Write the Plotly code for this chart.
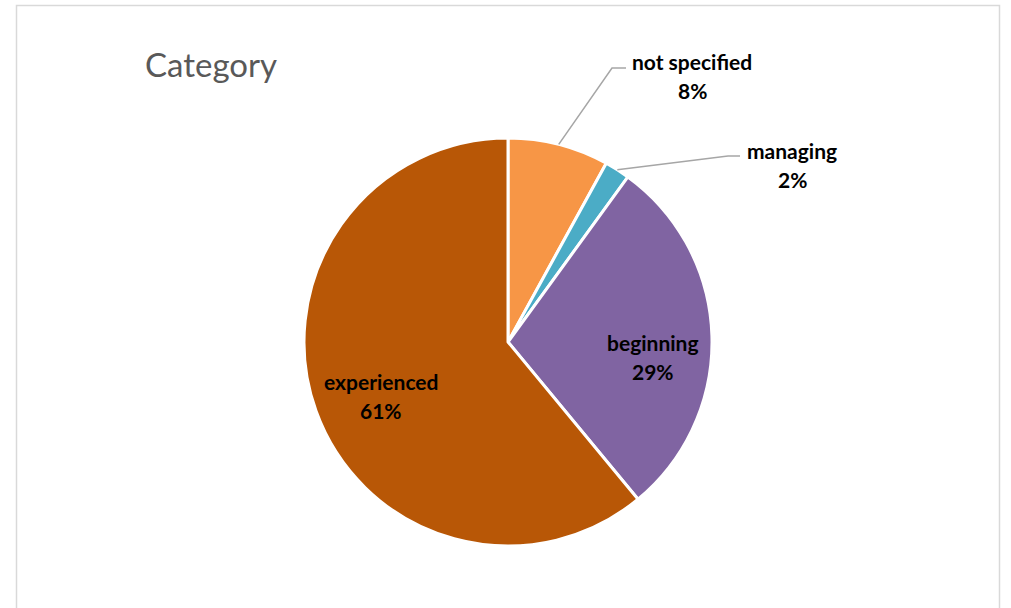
import math
import plotly.graph_objects as go


# =========================
# DATA
# =========================
categories = ["not specified", "managing", "beginning", "experienced"]
shares = [8, 2, 29, 61]
colors = ["#F79646", "#4BACC6", "#8064A2", "#B85706"]

W, H = 1011, 608
CX, CY, R = 508, 342, 204  # pie centre / radius in pixels


def px(x, y):
    return x / W, 1 - y / H


def slice_point(i, frac):
    # point along the middle of slice i, clockwise from 12 o'clock
    total = sum(shares)
    start = sum(shares[:i]) / total
    mid = (start + shares[i] / total / 2) * 2 * math.pi
    return CX + frac * R * math.sin(mid), CY - frac * R * math.cos(mid)


fig = go.Figure()

fig.add_trace(
    go.Pie(
        labels=categories,
        values=shares,
        sort=False,
        direction="clockwise",
        rotation=0,
        textinfo="none",
        hoverinfo="label+percent",
        marker=dict(colors=colors, line=dict(color="white", width=3)),
        domain=dict(
            x=[(CX - R) / W, (CX + R) / W],
            y=[1 - (CY + R) / H, 1 - (CY - R) / H],
        ),
        showlegend=False,
    )
)

FONT = "Lato, Carlito, Calibri, sans-serif"
label_font = dict(family=FONT, size=21, color="#000000")
annotations = []
shapes = []


def add_label(i, x, y):
    pct = round(shares[i] / sum(shares) * 100)
    for text, dy in ((categories[i], -14.5), (f"{pct}%", 14.5)):
        ax, ay = px(x, y + dy)
        annotations.append(dict(
            x=ax, y=ay, xref="paper", yref="paper",
            text=f"<b>{text}</b>", showarrow=False,
            xanchor="center", yanchor="middle", font=label_font,
        ))


# inside labels (nudged a little, like the original)
nudge = {2: (2, 19), 3: (7, 6)}
for i, (nx, ny) in nudge.items():
    lx, ly = slice_point(i, 0.7)
    add_label(i, lx + nx, ly + ny)

# outside labels with leader lines
outside = {0: ((692, 76), (612, 68), (626, 68)), 1: ((792, 165), (728, 156), (740, 156))}
for i, (lab, elbow, end) in outside.items():
    sx, sy = slice_point(i, 1.0)
    add_label(i, *lab)
    p0, p1, p2 = px(sx, sy), px(*elbow), px(*end)
    shapes.append(dict(
        type="path", xref="paper", yref="paper",
        path=f"M {p0[0]},{p0[1]} L {p1[0]},{p1[1]} L {p2[0]},{p2[1]}",
        line=dict(color="#A6A6A6", width=1.5),
    ))

# chart border
shapes.append(dict(
    type="rect", xref="paper", yref="paper",
    x0=16.5 / W, x1=999.5 / W, y0=-0.05, y1=1 - 5.5 / H,
    line=dict(color="#D9D9D9", width=1.5), layer="below",
))

tx, ty = px(143, 64)
annotations.append(dict(
    x=tx, y=ty, xref="paper", yref="paper", text="Category",
    showarrow=False, xanchor="left", yanchor="middle",
    font=dict(family=FONT, size=33, color="#595959"),
))

fig.update_layout(
    width=W,
    height=H,
    margin=dict(l=0, r=0, t=0, b=0),
    paper_bgcolor="white",
    plot_bgcolor="white",
    annotations=annotations,
    shapes=shapes,
)

# drop the page's default body margin so the figure sits at (0, 0)
fig.write_html(
    "out.html",
    config={"displayModeBar": False},
    post_script="document.body.style.margin='0';document.body.style.overflow='hidden';",
)
